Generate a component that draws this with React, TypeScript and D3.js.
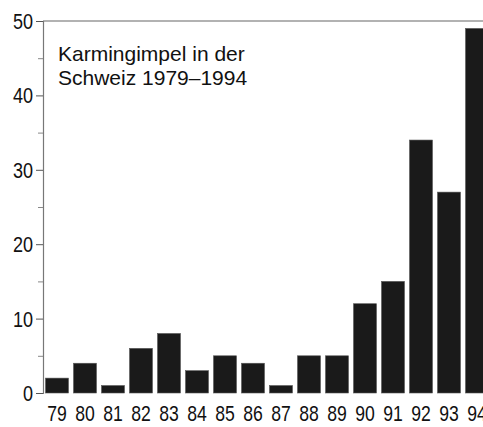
import React, { useEffect, useRef } from "react";
import * as d3 from "d3";

const years = ["79", "80", "81", "82", "83", "84", "85", "86", "87", "88", "89", "90", "91", "92", "93", "94"];
const counts = [2, 4, 1, 6, 8, 3, 5, 4, 1, 5, 5, 12, 15, 34, 27, 49];
const majorTicks = [0, 10, 20, 30, 40, 50];
const minorTicks = [5, 15, 25, 35, 45];
const titleLines = ["Karmingimpel in der", "Schweiz 1979–1994"];

const FONT = "'Liberation Sans', Arial, Helvetica, sans-serif";

const App = () => {
  const svgRef = useRef<SVGSVGElement>(null);
  const width = 483;
  const height = 427;
  const axisX = 43;

  useEffect(() => {
    const svg = d3.select(svgRef.current);
    svg.selectAll("*").remove();

    const x = d3
      .scaleBand()
      .domain(years)
      .range([axisX, axisX + years.length * 28])
      .paddingInner(0.18)
      .paddingOuter(0.09);

    const y = d3.scaleLinear().domain([0, 50]).range([393, 21]);

    // top frame line
    svg
      .append("line")
      .attr("x1", axisX)
      .attr("x2", width)
      .attr("y1", y(50))
      .attr("y2", y(50))
      .attr("stroke", "#999")
      .attr("stroke-width", 1.3);

    // bars
    svg
      .append("g")
      .selectAll("rect")
      .data(counts)
      .enter()
      .append("rect")
      .attr("x", (d, i) => x(years[i]) as number)
      .attr("y", (d) => y(d))
      .attr("width", x.bandwidth())
      .attr("height", (d) => y(0) - y(d))
      .attr("fill", "#1a1a1a")
      .attr("stroke", "#555")
      .attr("stroke-width", 0.6);

    // y axis (major ticks)
    const yAxis = svg
      .append("g")
      .attr("transform", `translate(${axisX},0)`)
      .call(d3.axisLeft(y).tickValues(majorTicks).tickSize(7).tickFormat(() => ""));
    yAxis.select(".domain").attr("stroke", "#777").attr("stroke-width", 1.2);
    yAxis.selectAll(".tick line").attr("stroke", "#555");

    // minor ticks
    svg
      .append("g")
      .attr("transform", `translate(${axisX},0)`)
      .call(d3.axisLeft(y).tickValues(minorTicks).tickSize(5).tickFormat(() => ""))
      .call((g) => g.select(".domain").remove())
      .selectAll(".tick line")
      .attr("stroke", "#888");

    // y labels, condensed
    svg
      .append("g")
      .selectAll("text")
      .data(majorTicks)
      .enter()
      .append("text")
      .attr("transform", (d) => `translate(33,${y(d) + 8}) scale(0.82,1)`)
      .attr("text-anchor", "end")
      .attr("font-family", FONT)
      .attr("font-size", 22)
      .attr("fill", "#111")
      .text((d) => d);

    // x labels, condensed
    svg
      .append("g")
      .selectAll("text")
      .data(years)
      .enter()
      .append("text")
      .attr("transform", (d) => `translate(${(x(d) as number) + x.bandwidth() / 2},421) scale(0.8,1)`)
      .attr("text-anchor", "middle")
      .attr("font-family", FONT)
      .attr("font-size", 22)
      .attr("fill", "#111")
      .text((d) => d);

    // title
    svg
      .append("text")
      .attr("font-family", FONT)
      .attr("font-size", 21)
      .attr("fill", "#111")
      .selectAll("tspan")
      .data(titleLines)
      .enter()
      .append("tspan")
      .attr("x", 58)
      .attr("y", (d, i) => 61 + i * 24)
      .text((d) => d);
  }, []);

  return (
    <svg
      ref={svgRef}
      width={width}
      height={height}
      style={{ position: "absolute", left: 0, top: 0, background: "#fff" }}
    />
  );
};

export default App;
